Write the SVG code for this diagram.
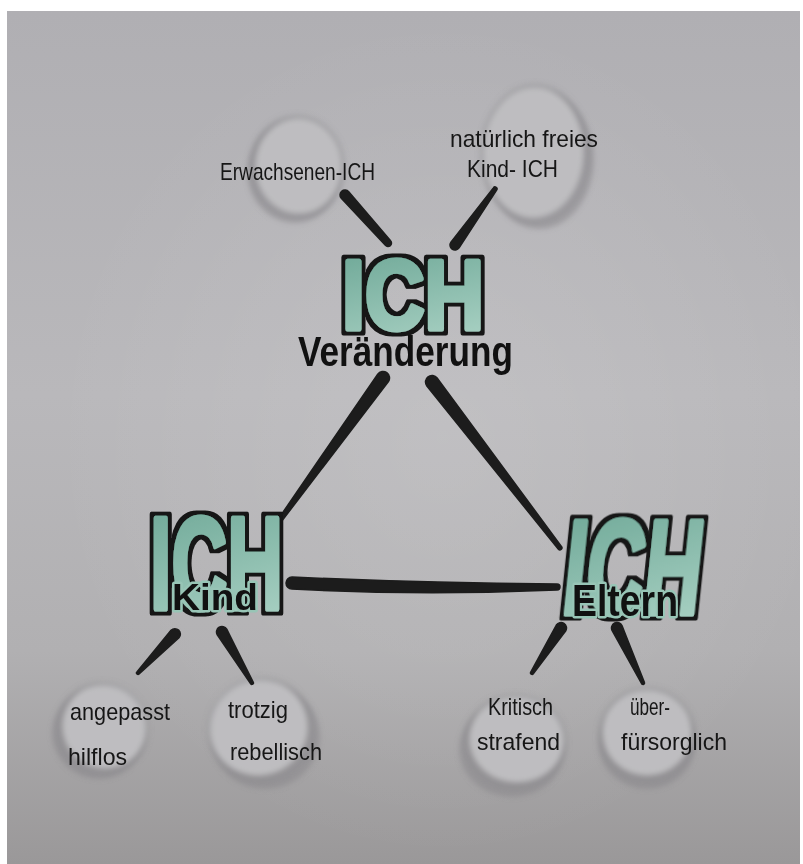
<svg xmlns="http://www.w3.org/2000/svg" width="803" height="864" viewBox="0 0 803 864">
<defs>
<linearGradient id="bg" x1="0" y1="0" x2="0" y2="1">
<stop offset="0" stop-color="#b0afb3"/>
<stop offset="0.45" stop-color="#b9b8bb"/>
<stop offset="0.75" stop-color="#b1b0b2"/>
<stop offset="1" stop-color="#9a9899"/>
</linearGradient>
<radialGradient id="glow" cx="0.55" cy="0.5" r="0.5">
<stop offset="0" stop-color="#ffffff" stop-opacity="0.12"/>
<stop offset="1" stop-color="#ffffff" stop-opacity="0"/>
</radialGradient>
<linearGradient id="teal" x1="0" y1="0" x2="0.3" y2="1">
<stop offset="0" stop-color="#6aa594"/>
<stop offset="1" stop-color="#a3cdbf"/>
</linearGradient>
<filter id="soft" x="-20%" y="-20%" width="140%" height="140%">
<feGaussianBlur stdDeviation="2.5"/>
</filter>
<filter id="outline" x="-10%" y="-10%" width="120%" height="120%">
<feMorphology in="SourceAlpha" operator="dilate" radius="3.5" result="d"/>
<feFlood flood-color="#141414"/>
<feComposite in2="d" operator="in" result="o"/>
<feMerge><feMergeNode in="o"/><feMergeNode in="SourceGraphic"/></feMerge>
</filter>
<style>
.ich{font-family:"Liberation Sans",Arial,sans-serif;font-weight:bold;fill:url(#teal);stroke:url(#teal);stroke-width:5;stroke-linejoin:round;filter:url(#outline)}
.big{font-family:"Liberation Sans",Arial,sans-serif;font-weight:bold;fill:#111}
.halo{stroke:#98c5b6;stroke-width:5;paint-order:stroke;stroke-linejoin:round}
.lbl{font-family:"Liberation Sans",Arial,sans-serif;font-size:24px;fill:#161616}
.con{fill:#1c1c1c;stroke:#1c1c1c;stroke-width:1.5;stroke-linejoin:round}
.shade{fill:#87868a;opacity:0.5}
.disc{fill:#bebdc0}
.ring{fill:none;stroke:#8a898d;stroke-width:5;opacity:0.35}
</style>
</defs>

<rect x="0" y="0" width="803" height="864" fill="#ffffff"/>
<rect x="7" y="11" width="793" height="853" fill="url(#bg)"/>
<rect x="7" y="11" width="793" height="853" fill="url(#glow)"/>

<g id="circles" filter="url(#soft)">
<ellipse class="shade" cx="295" cy="171" rx="48" ry="52"/>
<ellipse class="disc" cx="299" cy="166" rx="43" ry="47"/>
<ellipse class="ring" cx="297" cy="167" rx="46" ry="50"/>
<ellipse class="shade" cx="539" cy="159" rx="55" ry="70"/>
<ellipse class="disc" cx="533" cy="152" rx="50" ry="65"/>
<ellipse class="ring" cx="535" cy="154" rx="53" ry="68"/>
<ellipse class="shade" cx="99" cy="733" rx="47" ry="46"/>
<ellipse class="disc" cx="105" cy="726" rx="42" ry="42"/>
<ellipse class="ring" cx="102" cy="729" rx="45" ry="45"/>
<ellipse class="shade" cx="265" cy="736" rx="55" ry="53"/>
<ellipse class="disc" cx="258" cy="727" rx="49" ry="48"/>
<ellipse class="ring" cx="261" cy="730" rx="52" ry="51"/>
<ellipse class="shade" cx="512" cy="749" rx="53" ry="48"/>
<ellipse class="disc" cx="517" cy="739" rx="47" ry="43"/>
<ellipse class="ring" cx="515" cy="742" rx="50" ry="46"/>
<ellipse class="shade" cx="647" cy="742" rx="49" ry="47"/>
<ellipse class="disc" cx="647" cy="732" rx="44" ry="43"/>
<ellipse class="ring" cx="647" cy="735" rx="47" ry="46"/>
</g>

<g id="connectors">
<path class="con" d="M341.27,198.34 L385.39,245.34 A3.5,3.5 0 0 0 390.61,240.66 L348.73,191.66 A5,5 0 0 0 341.27,198.34 Z"/>
<path class="con" d="M459.07,247.91 L496.63,190.16 A2,2 0 0 0 493.37,187.84 L450.93,242.09 A5,5 0 0 0 459.07,247.91 Z"/>
<path class="con" d="M377.73,374.18 L278.38,518.83 A2,2 0 0 0 281.62,521.17 L388.27,381.82 A6.5,6.5 0 0 0 377.73,374.18 Z"/>
<path class="con" d="M426.85,385.97 L558.42,549.22 A2,2 0 0 0 561.58,546.78 L437.15,378.03 A6.5,6.5 0 0 0 426.85,385.97 Z"/>
<path class="con" d="M291.89,589 Q420,596 556.94,590 A3,3 0 0 0 557.06,584 Q420,583 292.11,577 A6,6 0 0 0 291.89,589 Z"/>
<path class="con" d="M171.01,630.22 L136.91,671.97 A1.5,1.5 0 0 0 139.09,674.03 L178.99,637.78 A5.5,5.5 0 0 0 171.01,630.22 Z"/>
<path class="con" d="M217.26,634.79 L250.71,683.76 A1.5,1.5 0 0 0 253.29,682.24 L226.74,629.21 A5.5,5.5 0 0 0 217.26,634.79 Z"/>
<path class="con" d="M556.37,625.02 L530.74,672.19 A1.5,1.5 0 0 0 533.26,673.81 L565.63,630.98 A5.5,5.5 0 0 0 556.37,625.02 Z"/>
<path class="con" d="M612.02,630.35 L641.64,683.64 A1.5,1.5 0 0 0 644.36,682.36 L621.98,625.65 A5.5,5.5 0 0 0 612.02,630.35 Z"/>
</g>

<g id="node-veraenderung">
<text class="ich" x="342" y="329" font-size="98" textLength="142" lengthAdjust="spacingAndGlyphs">ICH</text>
<text class="big" x="298" y="366" font-size="42" textLength="215" lengthAdjust="spacingAndGlyphs">Veränderung</text>
</g>

<g id="node-kind">
<text class="ich" x="150" y="609" font-size="132" textLength="133" lengthAdjust="spacingAndGlyphs">ICH</text>
<text class="big halo" x="172" y="610" font-size="37" textLength="86" lengthAdjust="spacingAndGlyphs">Kind</text>
</g>

<g id="node-eltern">
<g transform="translate(560,614) skewX(-6)">
<text class="ich" x="0" y="0" font-size="134" textLength="138" lengthAdjust="spacingAndGlyphs">ICH</text>
</g>
<text class="big halo" x="572" y="616" font-size="44" textLength="106" lengthAdjust="spacingAndGlyphs">Eltern</text>
</g>

<g id="node-erwachsenen">
<text class="lbl" x="220" y="180" textLength="155" lengthAdjust="spacingAndGlyphs">Erwachsenen-ICH</text>
</g>

<g id="node-natuerlich">
<text class="lbl" x="450" y="147" textLength="148" lengthAdjust="spacingAndGlyphs">natürlich freies</text>
<text class="lbl" x="467" y="177" textLength="91" lengthAdjust="spacingAndGlyphs">Kind- ICH</text>
</g>

<g id="node-angepasst">
<text class="lbl" x="70" y="720" textLength="100" lengthAdjust="spacingAndGlyphs">angepasst</text>
<text class="lbl" x="68" y="765" textLength="59" lengthAdjust="spacingAndGlyphs">hilflos</text>
</g>

<g id="node-trotzig">
<text class="lbl" x="228" y="718" textLength="60" lengthAdjust="spacingAndGlyphs">trotzig</text>
<text class="lbl" x="230" y="760" textLength="92" lengthAdjust="spacingAndGlyphs">rebellisch</text>
</g>

<g id="node-kritisch">
<text class="lbl" x="488" y="715" textLength="65" lengthAdjust="spacingAndGlyphs">Kritisch</text>
<text class="lbl" x="477" y="750" textLength="83" lengthAdjust="spacingAndGlyphs">strafend</text>
</g>

<g id="node-ueber">
<text class="lbl" x="630" y="715" textLength="40" lengthAdjust="spacingAndGlyphs">über-</text>
<text class="lbl" x="621" y="750" textLength="106" lengthAdjust="spacingAndGlyphs">fürsorglich</text>
</g>
</svg>
